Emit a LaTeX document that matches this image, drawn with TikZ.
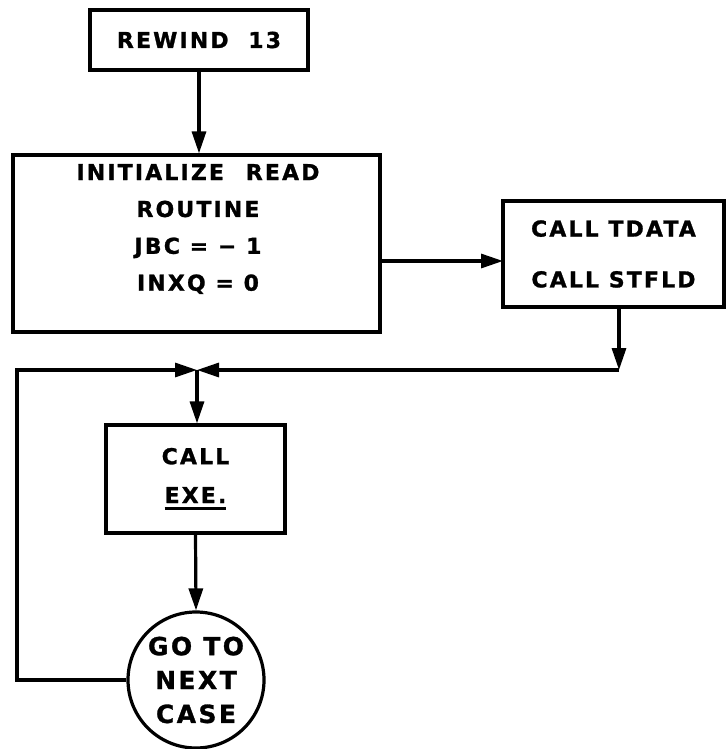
\documentclass[tikz,border=0pt]{standalone}
\usepackage{fontspec}
\setmainfont{DejaVu Sans}[LetterSpace=10, BoldFeatures={FakeBold=1.2}]
\usetikzlibrary{arrows.meta}
\newcommand\thickul[1]{\setbox0\hbox{#1}\rlap{\rule[-7bp]{\wd0}{2.6bp}}#1}
\tikzset{
  box/.style={draw, rectangle, line width=3.2bp, inner sep=0pt},
  lbl/.style={font=\bfseries\fontsize{22}{37}\selectfont, align=center, inner sep=0pt},
  flow/.style={line width=3.2bp, -{Triangle[length=22bp,width=14bp]}},
}
\begin{document}
\begin{tikzpicture}[x=1bp,y=-1bp]
\useasboundingbox[fill=white] (0,0) rectangle (727,749);

\node[box, lbl, minimum width=218bp, minimum height=60bp] (rewind) at (199,40) {REWIND\hspace{0.9em}13};
\node[box, minimum width=367bp, minimum height=177bp] (init) at (196.5,243.5) {};
\node[lbl] (initTxt) at (198,229) {INITIALIZE\hspace{1em}READ\\ROUTINE\\JBC = − 1\\INXQ = 0};
\node[box, lbl, font=\bfseries\fontsize{22}{51}\selectfont, minimum width=221bp, minimum height=106bp] (calls) at (613.5,254) {CALL TDATA\\CALL STFLD};
\node[box, lbl, font=\bfseries\fontsize{22}{39}\selectfont, minimum width=179bp, minimum height=108bp] (exe) at (195.5,479) {CALL\\\thickul{EXE.}};
\node[draw, circle, line width=3.2bp, lbl, font=\bfseries\fontsize{25}{34}\selectfont, minimum size=136bp] (next) at (196,680) {GO TO\\NEXT\\CASE};

\coordinate (jn) at (197,370);
\coordinate (rc) at (619,370);
\coordinate (lc1) at (17,680);
\coordinate (lc2) at (17,370);
\coordinate (ia) at (503,261);

\draw[flow] (rewind.south) -- (rewind.south |- init.north);
\draw[flow] (init.east |- ia) -- (ia);
\draw[flow] (calls.south -| rc) -- (rc);
\draw[flow] (rc) -- (jn);
\draw[flow] (next.west) -- (lc1) -- (lc2) -- (jn);
\draw[flow] (jn) -- (jn |- exe.north);
\draw[flow] (exe.south) -- (next.north);
\end{tikzpicture}
\end{document}
